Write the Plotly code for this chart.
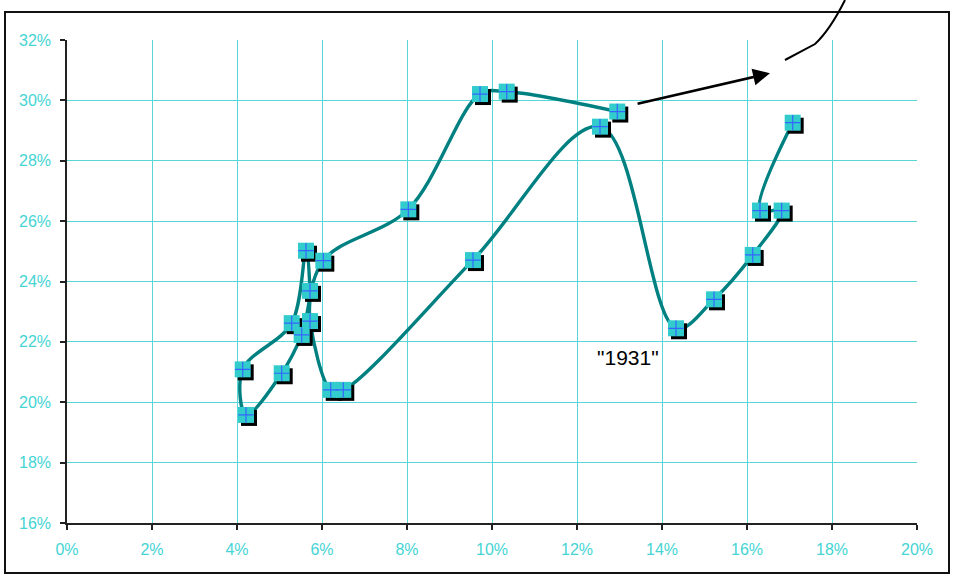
import plotly.graph_objects as go

# Observations in chronological path order (fractions)
x_vals = [0.17075, 0.16306, 0.16816, 0.16134, 0.15224, 0.14329, 0.12541, 0.09553,
          0.06501, 0.06205, 0.05718, 0.05718, 0.05624, 0.05287, 0.04134, 0.04212,
          0.05052, 0.05522, 0.06031, 0.08031, 0.09718, 0.10346, 0.12948]
y_vals = [0.2926, 0.2635, 0.2635, 0.2488, 0.2341, 0.2245, 0.2913, 0.2471,
          0.2041, 0.2041, 0.2269, 0.2369, 0.2502, 0.2262, 0.2109, 0.1958,
          0.2096, 0.2223, 0.2469, 0.2639, 0.3021, 0.3029, 0.2963]

x_ticks = [0.00, 0.02, 0.04, 0.06, 0.08, 0.10, 0.12, 0.14, 0.16, 0.18, 0.20]
y_ticks = [0.16, 0.18, 0.20, 0.22, 0.24, 0.26, 0.28, 0.30, 0.32]
x_range = [0.0, 0.20]
y_range = [0.16, 0.32]

label_text = '"1931"'
label_pos = (0.132, 0.2147)
arrow_tail = (0.1339, 0.2988)
arrow_head = (0.1654, 0.3090)

W, H = 961, 576
margin = dict(l=67, r=44, t=40, b=53)
plot_w = W - margin["l"] - margin["r"]
plot_h = H - margin["t"] - margin["b"]

# drop shadow offset of the markers: 3 px right and 3 px down
dx = 3 * (x_range[1] - x_range[0]) / plot_w
dy = 3 * (y_range[1] - y_range[0]) / plot_h

line_col = "#008080"
marker_fill = "#33CCCC"
cross_col = "#3366FF"
grid_col = "#5ad6d6"
tick_col = "#45d4d4"

fig = go.Figure()

# interior gridlines live on an overlaid axis pair so the plot edges stay open
fig.add_trace(go.Scatter(x=[None], y=[None], xaxis="x2", yaxis="y2",
                         mode="markers", hoverinfo="skip", showlegend=False))

fig.add_trace(go.Scatter(
    x=x_vals, y=y_vals, mode="lines",
    line=dict(color=line_col, width=3.4, shape="spline", smoothing=1.0),
    hoverinfo="skip", showlegend=False))

fig.add_trace(go.Scatter(
    x=[v + dx for v in x_vals], y=[v - dy for v in y_vals], mode="markers",
    marker=dict(symbol="square", size=16, color="#000000", line=dict(width=0)),
    hoverinfo="skip", showlegend=False))

fig.add_trace(go.Scatter(
    x=x_vals, y=y_vals, mode="markers",
    marker=dict(symbol="square", size=16, color=marker_fill, line=dict(width=0)),
    showlegend=False))

fig.add_trace(go.Scatter(
    x=x_vals, y=y_vals, mode="markers",
    marker=dict(symbol="cross-thin", size=11, color=cross_col,
                line=dict(width=1.2, color=cross_col)),
    hoverinfo="skip", showlegend=False))

fig.add_annotation(
    x=label_pos[0], y=label_pos[1], xref="x", yref="y",
    text=label_text, showarrow=False,
    font=dict(family="Liberation Sans, Arial, sans-serif", size=21, color="#000000"))

fig.add_annotation(
    x=arrow_head[0], y=arrow_head[1], ax=arrow_tail[0], ay=arrow_tail[1],
    xref="x", yref="y", axref="x", ayref="y",
    text="", showarrow=True, arrowhead=2, arrowsize=1.3, arrowwidth=2.6,
    arrowcolor="#000000")

# outer frame of the chart
fig.add_shape(type="rect", xref="paper", yref="paper",
              x0=(5 - margin["l"]) / plot_w, x1=(949 - margin["l"]) / plot_w,
              y0=-(573 - (H - margin["b"])) / plot_h, y1=(H - margin["b"] - 12) / plot_h,
              line=dict(color="#111111", width=2), fillcolor="rgba(0,0,0,0)", layer="below")

# connector line coming in from above the frame
fig.add_shape(type="path", xref="paper", yref="paper",
              path="M %.4f,%.4f Q %.4f,%.4f %.4f,%.4f L %.4f,%.4f" % (
                  (845 - 67) / plot_w, (523 - 0) / plot_h,
                  (830 - 67) / plot_w, (523 - 30) / plot_h,
                  (815 - 67) / plot_w, (523 - 44) / plot_h,
                  (785 - 67) / plot_w, (523 - 60) / plot_h),
              line=dict(color="#000000", width=2))

axis_font = dict(family="Liberation Sans, Arial, sans-serif", size=16, color=tick_col)

fig.update_layout(
    width=W, height=H, margin=margin,
    paper_bgcolor="#ffffff", plot_bgcolor="#ffffff", showlegend=False,
    xaxis=dict(range=x_range, tickvals=x_ticks, tickformat=".0%", showgrid=False,
               showline=True, linecolor="#222222", linewidth=1.5,
               ticks="outside", ticklen=5, tickcolor="#222222", tickwidth=1.5,
               ticklabelstandoff=6, zeroline=False, tickfont=axis_font,
               fixedrange=True),
    yaxis=dict(range=y_range, tickvals=y_ticks, tickformat=".0%", showgrid=False,
               showline=True, linecolor="#222222", linewidth=1.5,
               ticks="outside", ticklen=5, tickcolor="#222222", tickwidth=1.5,
               ticklabelstandoff=6, zeroline=False, tickfont=axis_font,
               fixedrange=True),
    xaxis2=dict(range=x_range, tickvals=x_ticks[1:-1], overlaying="x",
                showgrid=True, gridcolor=grid_col, gridwidth=1.2,
                showticklabels=False, ticks="", showline=False, zeroline=False,
                fixedrange=True, layer="below traces"),
    yaxis2=dict(range=y_range, tickvals=y_ticks[1:-1], overlaying="y",
                showgrid=True, gridcolor=grid_col, gridwidth=1.2,
                showticklabels=False, ticks="", showline=False, zeroline=False,
                fixedrange=True, layer="below traces"),
)

fig.write_html("out.html")
